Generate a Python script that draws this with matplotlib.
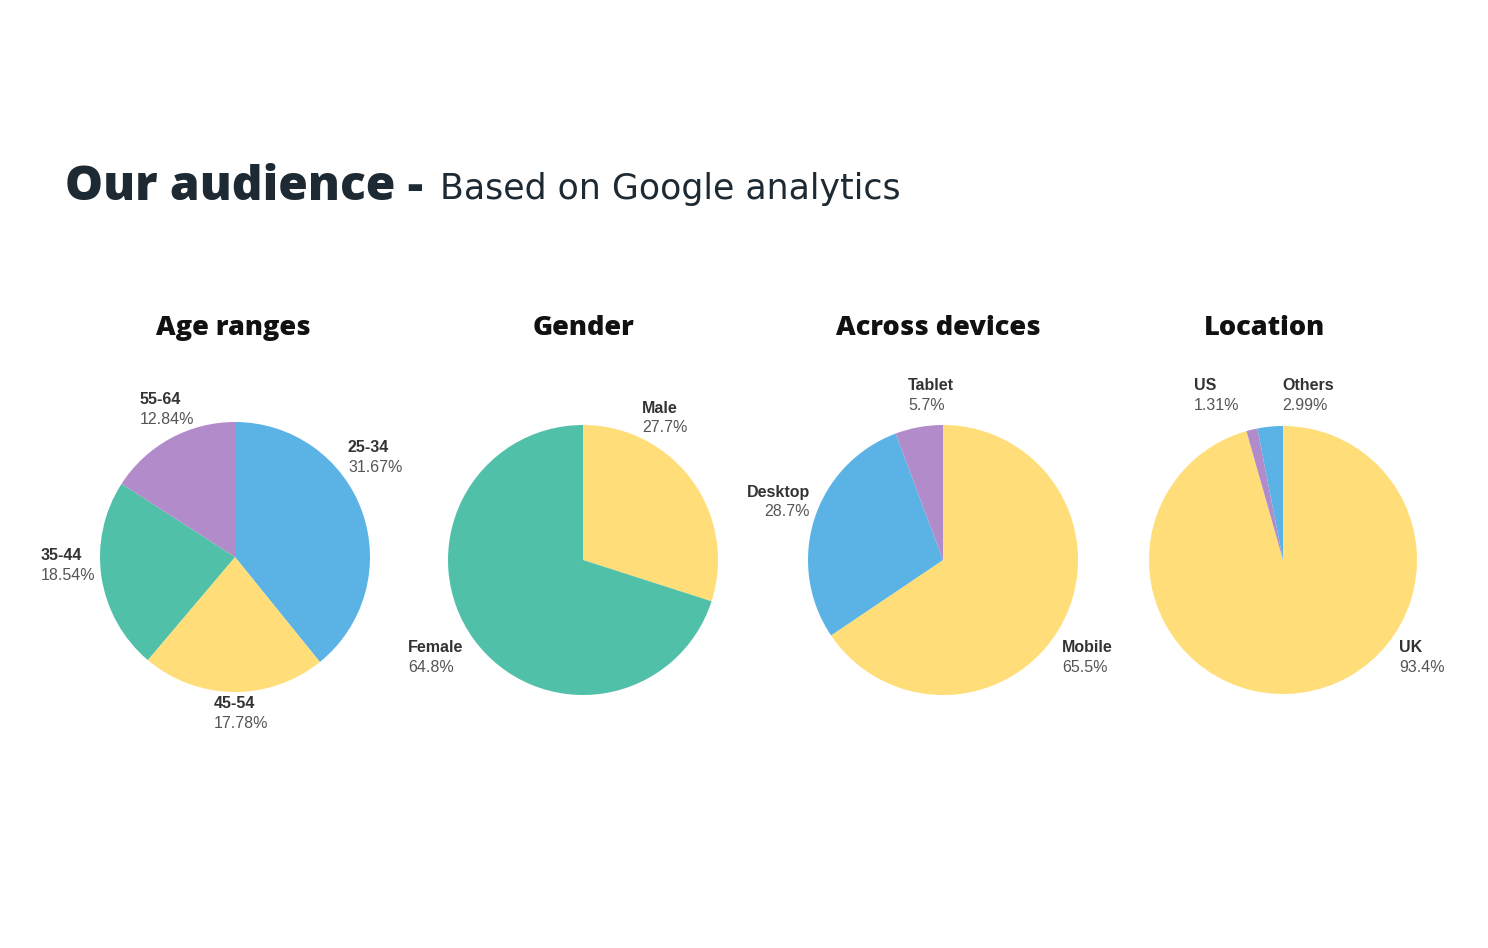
import matplotlib
matplotlib.use("Agg")
import matplotlib.pyplot as plt

W, H = 1488, 948

# ---- data ----
age_labels = ["25-34", "45-54", "35-44", "55-64"]
age_values = [31.67, 17.78, 18.54, 12.84]
gender_labels = ["Male", "Female"]
gender_values = [27.7, 64.8]
device_labels = ["Mobile", "Desktop", "Tablet"]
device_values = [65.5, 28.7, 5.7]
loc_labels = ["UK", "US", "Others"]
loc_values = [93.4, 1.31, 2.99]

BLUE, YELLOW, GREEN, PURPLE = "#5AB3E4", "#FFDD78", "#51C0A9", "#B28BCB"
age_colors = [BLUE, YELLOW, GREEN, PURPLE]
gender_colors = [YELLOW, GREEN]
device_colors = [YELLOW, BLUE, PURPLE]
loc_colors = [YELLOW, PURPLE, BLUE]

def fmt(v):
    s = f"{v:.2f}".rstrip("0").rstrip(".")
    return s + "%"

charts = [
    ("Age ranges", age_labels, age_values, age_colors, (235, 557), 135, 233,
     [(348, 447, "left"), (214, 703, "left"), (41, 555, "left"), (140, 399, "left")]),
    ("Gender", gender_labels, gender_values, gender_colors, (583, 560), 135, 583,
     [(642, 408, "left"), (408, 647, "left")]),
    ("Across devices", device_labels, device_values, device_colors, (943, 560), 135, 938,
     [(1062, 647, "left"), (810, 492, "right"), (908, 385, "left")]),
    ("Location", loc_labels, loc_values, loc_colors, (1283, 560), 134, 1265,
     [(1399, 647, "left"), (1194, 385, "left"), (1282, 385, "left")]),
]

fig = plt.figure(figsize=(W / 100, H / 100), dpi=100)
fig.patch.set_facecolor("white")

def fx(x):
    return x / W

def fy(y):
    return 1 - y / H

TITLE_FONT = ["Open Sans", "DejaVu Sans"]
fig.text(fx(65), fy(200), "Our audience -", fontsize=34.5, fontweight="heavy",
         family=TITLE_FONT, color="#1E2A33", ha="left", va="baseline")
fig.text(fx(440), fy(199), "Based on Google analytics", fontsize=25,
         family=["DejaVu Sans"], color="#1E2A33", ha="left", va="baseline")

LABEL_FONT = ["Liberation Sans", "DejaVu Sans"]
for title, labels, values, colors, (cx, cy), r, tx, lpos in charts:
    ax = fig.add_axes([fx(cx - r), fy(cy + r), 2 * r / W, 2 * r / H])
    ax.pie(values, colors=colors, startangle=90, counterclock=False, radius=1,
           wedgeprops=dict(linewidth=0))
    ax.set_xlim(-1, 1)
    ax.set_ylim(-1, 1)
    ax.set_aspect("equal")
    ax.axis("off")
    fig.text(fx(tx), fy(328), title, fontsize=19.5, fontweight="heavy",
             family=TITLE_FONT, color="#111111", ha="center", va="center")
    for lab, val, (lx, ly, ha) in zip(labels, values, lpos):
        fig.text(fx(lx), fy(ly), lab, fontsize=11.5, fontweight="bold",
                 family=LABEL_FONT, color="#333333", ha=ha, va="center")
        fig.text(fx(lx), fy(ly + 20), fmt(val), fontsize=11.5,
                 family=LABEL_FONT, color="#555555", ha=ha, va="center")

fig.savefig("out.png", dpi=100, facecolor="white")
